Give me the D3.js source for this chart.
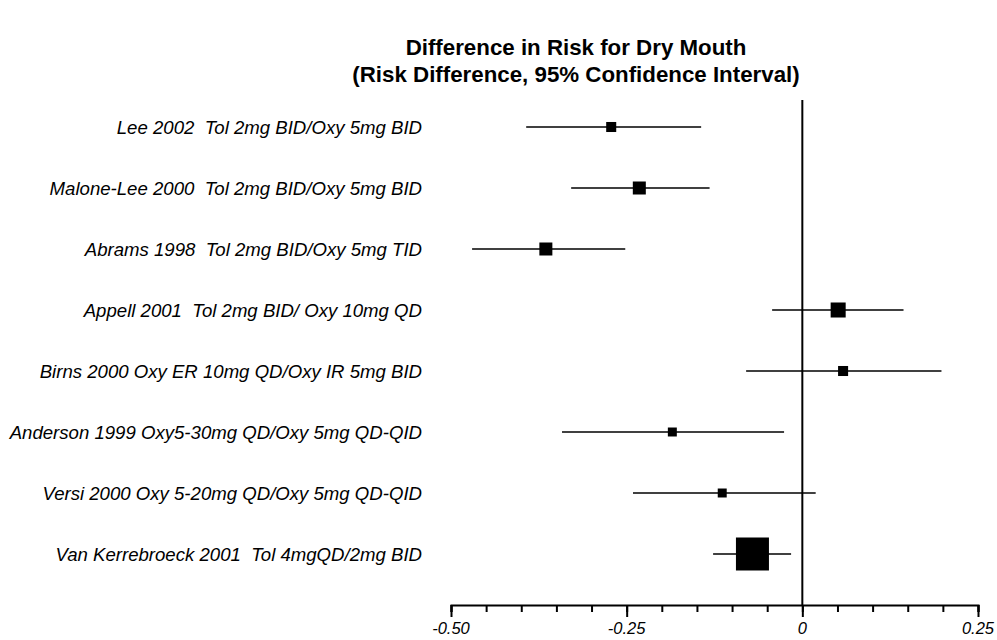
<!DOCTYPE html>
<html>
<head>
<meta charset="utf-8">
<script src="https://cdn.jsdelivr.net/npm/d3@7/dist/d3.min.js"></script>
<style>
  body { margin: 0; background: #fff; }
  svg text { font-family: Arial, "Liberation Sans", sans-serif; fill: #000; white-space: pre; }
  .title { font-size: 22.3px; font-weight: bold; }
  .study { font-size: 18.6px; font-style: italic; }
  .tick-label { font-size: 16.5px; font-style: italic; }
</style>
</head>
<body>
<svg id="forest" width="997" height="640"></svg>
<script>
// Forest plot: risk difference for dry mouth, 95% CI
const STUDIES = [
  "Lee 2002  Tol 2mg BID/Oxy 5mg BID",
  "Malone-Lee 2000  Tol 2mg BID/Oxy 5mg BID",
  "Abrams 1998  Tol 2mg BID/Oxy 5mg TID",
  "Appell 2001  Tol 2mg BID/ Oxy 10mg QD",
  "Birns 2000 Oxy ER 10mg QD/Oxy IR 5mg BID",
  "Anderson 1999 Oxy5-30mg QD/Oxy 5mg QD-QID",
  "Versi 2000 Oxy 5-20mg QD/Oxy 5mg QD-QID",
  "Van Kerrebroeck 2001  Tol 4mgQD/2mg BID",
];
const ESTIMATE = [-0.272, -0.232, -0.365, 0.051, 0.058, -0.185, -0.114, -0.071];
const LOWER = [-0.393, -0.329, -0.470, -0.043, -0.080, -0.342, -0.241, -0.127];
const UPPER = [-0.144, -0.132, -0.252, 0.144, 0.198, -0.026, 0.019, -0.016];
const WEIGHT = [5.0, 8.4, 8.4, 11.2, 5.0, 4.0, 4.0, 54.1]; // study weight, %
const TICK_VALUES = [-0.5, -0.25, 0, 0.25];
const TICK_LABELS = ["-0.50", "-0.25", "0", "0.25"];
const TITLE = [
  "Difference in Risk for Dry Mouth",
  "(Risk Difference, 95% Confidence Interval)",
];

const svg = d3.select("#forest");

const x = d3.scaleLinear().domain([-0.5, 0.25]).range([451, 978]);
const y = d3.scalePoint().domain(STUDIES).range([127, 554]);
const side = d3.scaleSqrt().domain([0, d3.max(WEIGHT)]).range([0, 33]);
const axisY = 605;

const rows = STUDIES.map((s, i) => ({
  study: s,
  est: ESTIMATE[i],
  lo: LOWER[i],
  hi: UPPER[i],
  w: WEIGHT[i],
}));

// title
svg
  .selectAll("text.title")
  .data(TITLE)
  .join("text")
  .attr("class", "title")
  .attr("x", 576)
  .attr("y", (d, i) => 55 + i * 27)
  .attr("text-anchor", "middle")
  .text((d) => d);

// study labels
svg
  .selectAll("text.study")
  .data(rows)
  .join("text")
  .attr("class", "study")
  .attr("x", 422)
  .attr("y", (d) => y(d.study))
  .attr("dy", "0.35em")
  .attr("text-anchor", "end")
  .text((d) => d.study);

// x axis: minor ticks every 0.05, longer major ticks
const gx = svg.append("g").attr("transform", `translate(0,${axisY})`);
gx.call(
  d3.axisBottom(x).tickValues(d3.range(-0.5, 0.2501, 0.05)).tickSize(7).tickFormat("")
);
gx.append("g").call(
  d3.axisBottom(x).tickValues(TICK_VALUES).tickSize(12).tickFormat("")
);
gx.selectAll(".domain").attr("stroke", "#000").attr("stroke-width", 2);
gx.selectAll(".tick line").attr("stroke", "#000").attr("stroke-width", 2);
gx.selectAll(".domain").filter((d, i) => i > 0).remove();

svg
  .selectAll("text.tick-label")
  .data(TICK_VALUES)
  .join("text")
  .attr("class", "tick-label")
  .attr("x", (d) => x(d))
  .attr("y", axisY + 29)
  .attr("text-anchor", "middle")
  .text((d, i) => TICK_LABELS[i]);

// line of no effect
svg
  .append("line")
  .attr("x1", x(0))
  .attr("x2", x(0))
  .attr("y1", 100)
  .attr("y2", axisY)
  .attr("stroke", "#000")
  .attr("stroke-width", 2);

// confidence intervals
svg
  .selectAll("line.ci")
  .data(rows)
  .join("line")
  .attr("class", "ci")
  .attr("x1", (d) => x(d.lo))
  .attr("x2", (d) => x(d.hi))
  .attr("y1", (d) => y(d.study))
  .attr("y2", (d) => y(d.study))
  .attr("stroke", "#000")
  .attr("stroke-width", 1.6);

// point estimates, box sized by weight
svg
  .selectAll("rect.est")
  .data(rows)
  .join("rect")
  .attr("class", "est")
  .attr("x", (d) => x(d.est) - side(d.w) / 2)
  .attr("y", (d) => y(d.study) - side(d.w) / 2)
  .attr("width", (d) => side(d.w))
  .attr("height", (d) => side(d.w))
  .attr("fill", "#000");
</script>
</body>
</html>
